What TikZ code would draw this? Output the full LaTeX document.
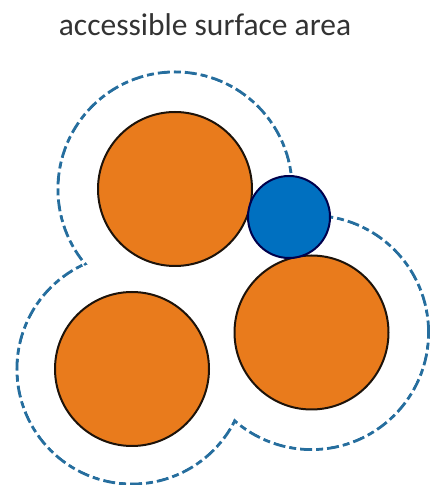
\documentclass[tikz,border=0pt]{standalone}
\usepackage{fontspec}
\setmainfont{Carlito}
\usepackage{xcolor}
\usepackage{tikz}

\definecolor{atomorange}{RGB}{233,123,28}
\definecolor{probeblue}{RGB}{0,112,192}
\definecolor{sasblue}{RGB}{38,110,158}

\begin{document}
\begin{tikzpicture}[x=1pt, y=1pt,
    atom/.style={draw=black!85!brown, line width=2pt, fill=atomorange},
    probe/.style={draw=black!70!blue, line width=2pt, fill=probeblue},
    sas/.style={draw=sasblue, line width=3pt, dash pattern=on 12pt off 4pt on 7pt off 4pt},
    caption/.style={font=\fontsize{31.5}{38}\selectfont, text=black!80},
  ]
  \useasboundingbox (0,0) rectangle (430,485);

  \coordinate (a1) at (175,296);
  \coordinate (a2) at (132,116);
  \coordinate (a3) at (311.5,152.5);
  \coordinate (p)  at (289,268);

  \node[caption, anchor=base] (title) at (205,449) {accessible surface area};

  % accessible surface: rings, then blank the inside of the union
  \foreach \c/\r in {a1/117, a2/115, a3/117}
    \draw[sas] (\c) circle[radius=\r pt];
  \foreach \c/\r in {a1/117, a2/115, a3/117}
    \fill[white] (\c) circle[radius={\r pt-1.6pt}];

  % atoms and probe
  \foreach \c in {a1, a2, a3}
    \draw[atom] (\c) circle[radius=77pt];
  \draw[probe] (p) circle[radius=41pt];

\end{tikzpicture}
\end{document}
